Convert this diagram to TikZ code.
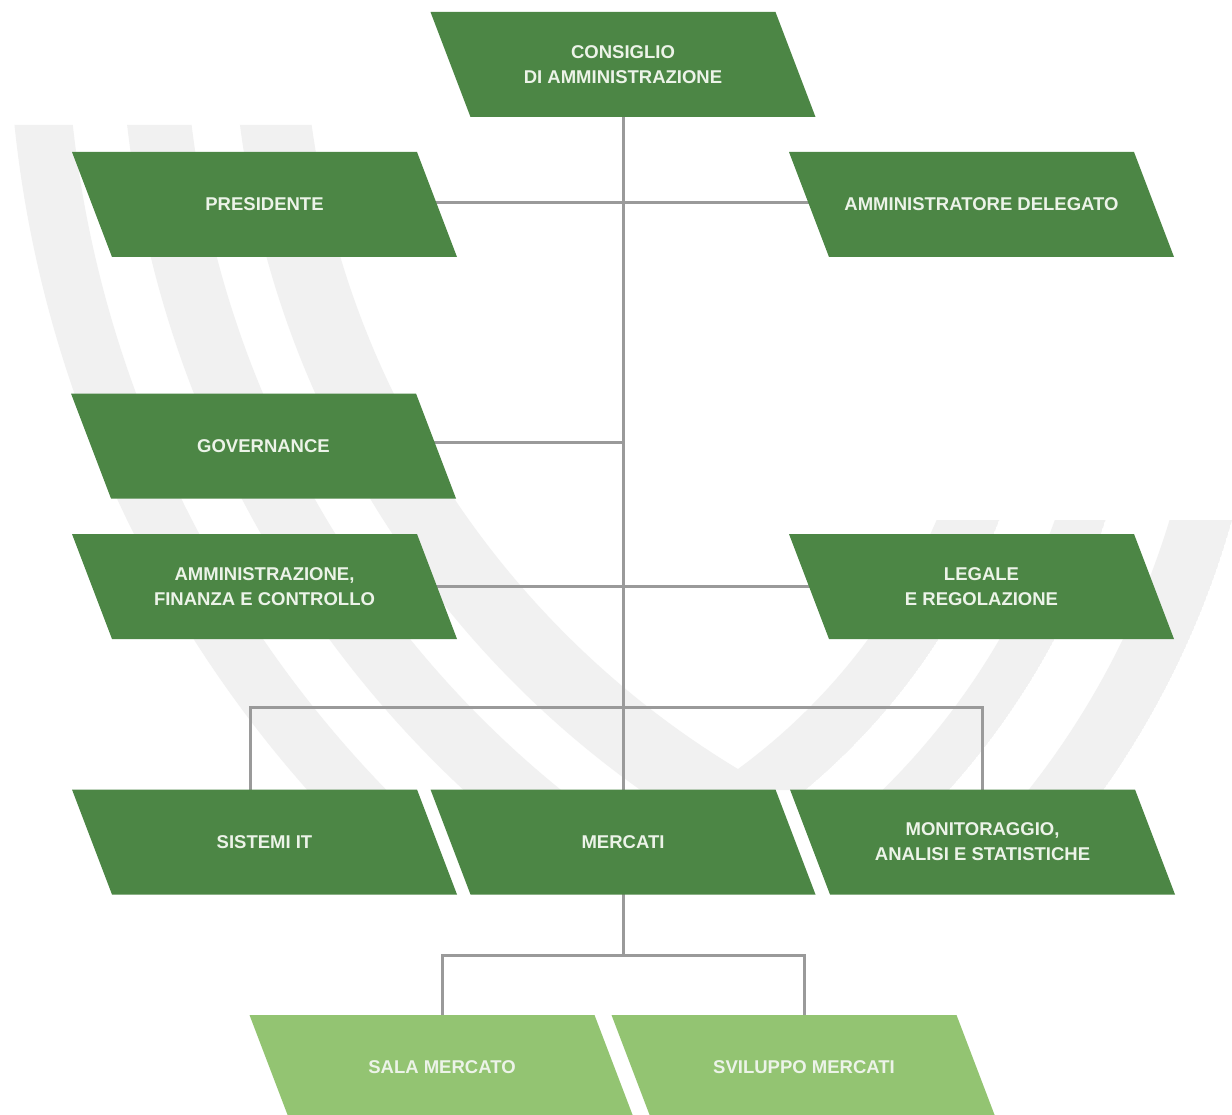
\documentclass[tikz,border=0pt]{standalone}
\usepackage{fontspec}
\setmainfont{Liberation Sans}
\definecolor{dgreen}{RGB}{76,134,69}
\definecolor{lgreen}{RGB}{147,196,114}
\definecolor{txtc}{RGB}{236,243,232}
\definecolor{linec}{RGB}{154,154,154}
\definecolor{wmcol}{RGB}{241,241,241}
\pgfdeclarelayer{wm}
\pgfdeclarelayer{lines}
\pgfsetlayers{wm,lines,main}
\tikzset{
  orgbox/.style={minimum width=385pt, minimum height=105pt, inner sep=0pt,
    align=center, text=txtc, font=\fontsize{18.5}{25}\selectfont\bfseries,
    path picture={\fill[#1] (path picture bounding box.north west)
      -- ([xshift=-40pt]path picture bounding box.north east)
      -- (path picture bounding box.south east)
      -- ([xshift=40pt]path picture bounding box.south west) -- cycle;}},
  dbox/.style={orgbox=dgreen},
  lbox/.style={orgbox=lgreen},
  conn/.style={draw=linec, line width=3pt},
}
\begin{document}
\begin{tikzpicture}[x=1pt,y=-1pt]
\useasboundingbox (0,0) rectangle (1232,1115);

% watermark
\begin{pgfonlayer}{wm}
\fill[white] (0,0) rectangle (1232,1115);
\begin{scope}
\clip (0,125) -- (720,125) -- (720,520) -- (1232,520) -- (1232,790) -- (0,790) -- cycle;
\foreach \ai/\ao/\bi/\bo in {897/968/606/664, 1016/1080/716/764, 1134/1192/825/885}{
  \begin{scope}
    \clip (1200,0) circle (\ao pt);
    \clip (380,280) circle (\bo pt);
    \fill[wmcol, even odd rule] (1200,0) circle (\ao pt) (1200,0) circle (\ai pt);
    \fill[wmcol, even odd rule] (380,280) circle (\bo pt) (380,280) circle (\bi pt);
  \end{scope}
}
\end{scope}
\end{pgfonlayer}

% boxes
\node[dbox] (cda) at (623,64.5) {CONSIGLIO\\DI AMMINISTRAZIONE};
\node[dbox] (pres) at (264.5,204.5) {PRESIDENTE};
\node[dbox] (ad) at (981.5,204.5) {AMMINISTRATORE DELEGATO};
\node[dbox] (gov) at (263.5,446) {GOVERNANCE};
\node[dbox] (afc) at (264.5,586.5) {AMMINISTRAZIONE,\\FINANZA E CONTROLLO};
\node[dbox] (leg) at (981.5,586.5) {LEGALE\\E REGOLAZIONE};
\node[dbox] (sis) at (264.5,842) {SISTEMI IT};
\node[dbox] (mer) at (623,842) {MERCATI};
\node[dbox] (mon) at (982.5,842) {MONITORAGGIO,\\ANALISI E STATISTICHE};
\node[lbox] (sala) at (442,1067.5) {SALA MERCATO};
\node[lbox] (svi) at (804,1067.5) {SVILUPPO MERCATI};

% connectors
\coordinate (busy) at (623,707);
\coordinate (bus2) at (623,955);
\coordinate (presl) at ([yshift=2pt]pres.center);
\coordinate (adl) at ([yshift=2pt]ad.center);
\coordinate (govl) at ([yshift=4pt]gov.center);
\coordinate (sisd) at ([xshift=-14pt]sis.center);
\begin{pgfonlayer}{lines}
\draw[conn] (cda.center) -- (mer.center);
\draw[conn] (presl) -- (adl);
\draw[conn] (govl) -- (govl -| cda.center);
\draw[conn] (afc.center) -- (leg.center);
\draw[conn] (sisd) -- (sisd |- busy) -- (mon.center |- busy) -- (mon.center);
\draw[conn] (mer.center) -- (bus2);
\draw[conn] (sala.center) |- (bus2) -| (svi.center);
\end{pgfonlayer}
\end{tikzpicture}
\end{document}
